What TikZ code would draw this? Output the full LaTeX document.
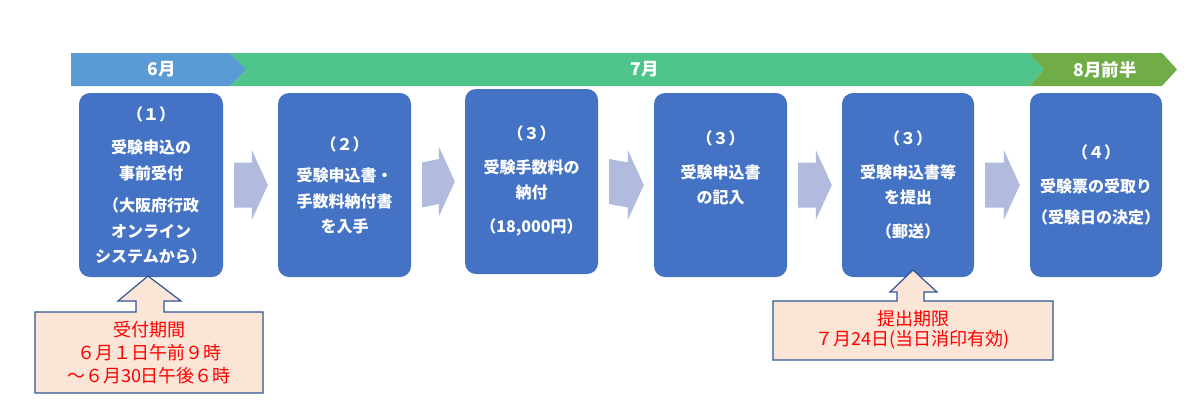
\documentclass[tikz,border=0pt]{standalone}
\usepackage{fontspec}
\usetikzlibrary{calc}
\setmainfont{Noto Sans CJK JP}
\begin{document}
\begin{tikzpicture}[x=1pt,y=-1pt,
  stepbox/.style={draw=none,fill=boxblue,rounded corners=11pt,inner sep=0pt},
  boxtext/.style={text=white,align=center,font={\fontsize{16}{25.5}\selectfont\bfseries}},
  bantext/.style={text=white,font={\fontsize{17.5}{20}\selectfont\bfseries}},
  flowarrow/.style={fill=arrowblue,draw=none},
  callout/.style={fill=callfill,draw=calldraw,line width=1.2pt},
  calltext/.style={text=red,align=center,font={\fontsize{18}{23}\selectfont}}]
\definecolor{boxblue}{HTML}{4472C4}
\definecolor{banblue}{HTML}{5B9BD5}
\definecolor{bangreen}{HTML}{4FC48B}
\definecolor{bandark}{HTML}{70AD47}
\definecolor{arrowblue}{HTML}{B0BBDD}
\definecolor{callfill}{HTML}{FBE5D6}
\definecolor{calldraw}{HTML}{2F5597}
\useasboundingbox[fill=white] (0,0) rectangle (1200,416);
% banner
\fill[bandark] (1029,53) -- (1162,53) -- (1177,69.5) -- (1162,86) -- (1029,86) -- (1044,69.5) -- cycle;
\fill[bangreen] (230,53) -- (1029,53) -- (1044,69.5) -- (1029,86) -- (230,86) -- (246,69.5) -- cycle;
\fill[banblue] (71,53) -- (230,53) -- (246,69.5) -- (230,86) -- (71,86) -- cycle;
\node[bantext] (m6) at (162,69.5) {6月};
\node[bantext] (m7) at (645,69.5) {7月};
\node[bantext] (m8) at (1105,69.5) {8月前半};
% boxes
\node[stepbox,minimum width=144pt,minimum height=184pt] (b1) at (151,185) {};
\node[stepbox,minimum width=133pt,minimum height=184pt] (b2) at (344.5,185) {};
\node[stepbox,minimum width=133pt,minimum height=185pt] (b3) at (531.5,181.5) {};
\node[stepbox,minimum width=133pt,minimum height=184pt] (b4) at (720.5,185) {};
\node[stepbox,minimum width=132pt,minimum height=184pt] (b5) at (908,185) {};
\node[stepbox,minimum width=132pt,minimum height=184pt] (b6) at (1096,185) {};
\node[boxtext] (t1) at (151,185.5) {（１）\\[8pt]受験申込の\\事前受付\\[7pt]（大阪府行政\\オンライン\\システムから）};
\node[boxtext] (t2) at (344.5,185.5) {（２）\\[6pt]受験申込書・\\手数料納付書\\を入手};
\node[boxtext] (t3) at (531.5,181) {（３）\\[8pt]受験手数料の\\納付\\[8pt]（18,000円）};
\node[boxtext] (t4) at (720.5,168) {（３）\\[8pt]受験申込書\\の記入};
\node[boxtext] (t5) at (908,185) {（３）\\[8pt]受験申込書等\\を提出\\[8pt]（郵送）};
\node[boxtext] (t6) at (1096,185) {（４）\\[8pt]受験票の受取り\\[6pt]（受験日の決定）};
% flow arrows
\foreach \a/\b in {b1/b2,b2/b3,b3/b4,b4/b5,b5/b6}{
  \path (\a.east) ++(11,0) coordinate (s) (\b.west) ++(-10,0) coordinate (e);
  \fill[flowarrow] ($(s)+(0,-22.5)$) -- ($(e)+(-16,-22.5)$) -- ($(e)+(-16,-35)$) -- (e) -- ($(e)+(-16,35)$) -- ($(e)+(-16,22.5)$) -- ($(s)+(0,22.5)$) -- cycle;
}
% callouts
\draw[callout] (35,312) -- (136,312) -- (136,301) -- (118,301) -- (148,276) -- (181,301) -- (164,301) -- (164,312) -- (263,312) -- (263,393) -- (35,393) -- cycle;
\node[calltext] (c1) at (149,353) {受付期間\\６月１日午前９時\\～６月30日午後６時};
\draw[callout] (773,301) -- (897,301) -- (897,292) -- (890,292) -- (913,270) -- (937,292) -- (924,292) -- (924,301) -- (1053,301) -- (1053,360) -- (773,360) -- cycle;
\node[calltext,font={\fontsize{18}{20}\selectfont}] (c2) at (913,330) {提出期限\\７月24日(当日消印有効)};
\end{tikzpicture}
\end{document}
